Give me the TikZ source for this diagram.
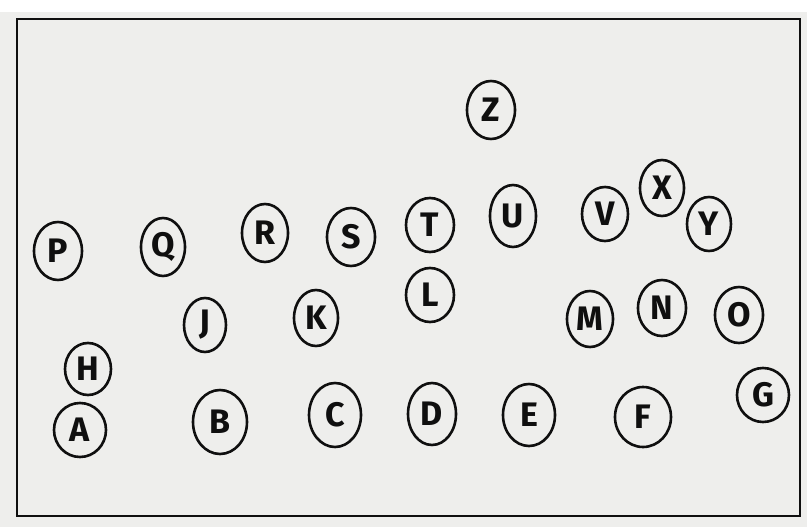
\documentclass[tikz,border=0pt]{standalone}
\usepackage{fontspec}
\setsansfont{Fira Sans}
\usetikzlibrary{shapes.geometric}
\definecolor{paper}{RGB}{238,238,236}
\definecolor{ink}{RGB}{15,15,15}
\tikzset{
  lbl/.style={draw=ink, line width=2.6pt, ellipse, inner sep=0pt,
    minimum width=48pt, minimum height=58pt,
    font=\sffamily\bfseries\fontsize{34}{34}\selectfont, text=ink, xscale=1},
  frame/.style={draw=ink, line width=2.6pt}
}
\begin{document}
\begin{tikzpicture}[x=1pt,y=-1pt]
\fill[white] (0,0) rectangle (807,527);
\fill[paper] (0,12) rectangle (807,527);
\useasboundingbox (0,0) rectangle (807,527);
\coordinate (tl) at (17,19);
\coordinate (br) at (800,516);
\draw[frame] (tl) rectangle (br);
\node[lbl] (Z) at (491,110) {Z};
\node[lbl] (P) at (58,251) {P};
\node[lbl,minimum width=44pt] (Q) at (163,247) {Q};
\node[lbl,minimum width=46pt] (R) at (265,233) {R};
\node[lbl] (S) at (351,237) {S};
\node[lbl,minimum height=54pt] (T) at (430,225) {T};
\node[lbl,minimum width=46pt,minimum height=62pt] (U) at (513,216) {U};
\node[lbl,minimum width=46pt,minimum height=54pt] (V) at (605,214) {V};
\node[lbl,minimum width=44pt,minimum height=56pt] (X) at (662,188) {X};
\node[lbl,minimum width=44pt,minimum height=54pt] (Y) at (709,224) {Y};
\node[lbl,minimum height=54pt] (L) at (430,295) {L};
\node[lbl,minimum width=42pt,minimum height=54pt] (J) at (205,325) {J};
\node[lbl,minimum width=44pt,minimum height=56pt] (K) at (316,318) {K};
\node[lbl,minimum width=46pt,minimum height=56pt] (M) at (590,319) {M};
\node[lbl,minimum height=56pt] (N) at (662,308) {N};
\node[lbl,minimum height=56pt] (O) at (739,315) {O};
\node[lbl,minimum width=46pt,minimum height=52pt] (H) at (88,369) {H};
\node[lbl,minimum width=52pt,minimum height=54pt] (A) at (80,430) {A};
\node[lbl,minimum width=54pt,minimum height=64pt] (B) at (220,422) {B};
\node[lbl,minimum width=52pt,minimum height=64pt] (C) at (335,415) {C};
\node[lbl,minimum height=62pt] (D) at (432,414) {D};
\node[lbl,minimum width=52pt,minimum height=62pt] (E) at (529,415) {E};
\node[lbl,minimum width=56pt,minimum height=60pt] (F) at (643,417) {F};
\node[lbl,minimum width=52pt,minimum height=54pt] (G) at (763,395) {G};
\end{tikzpicture}
\end{document}
